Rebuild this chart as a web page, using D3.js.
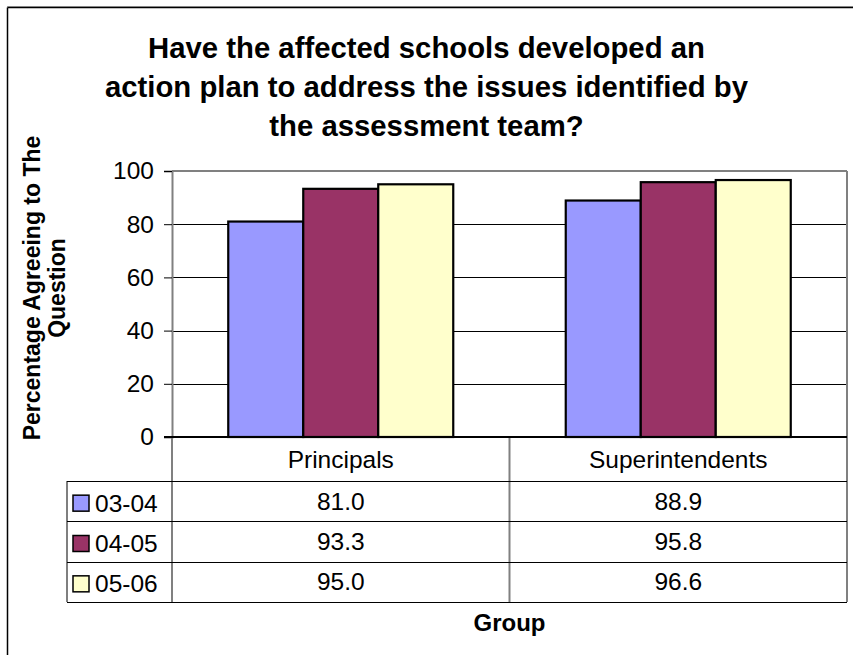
<!DOCTYPE html>
<html>
<head>
<meta charset="utf-8">
<script src="https://cdn.jsdelivr.net/npm/d3@7"></script>
<style>
  html, body { margin: 0; padding: 0; background: #fff; }
  svg { display: block; }
  text { font-family: "Liberation Sans", Arial, sans-serif; fill: #000; }
</style>
</head>
<body>
<svg id="chart" width="853" height="655"></svg>
<script>
// ---- data ----
const categories = ["Principals", "Superintendents"];
const seriesNames = ["03-04", "04-05", "05-06"];
const values0304 = [81.0, 88.9];
const values0405 = [93.3, 95.8];
const values0506 = [95.0, 96.6];
const yTicks = [0, 20, 40, 60, 80, 100];
const titleLines = ["Have the affected schools developed an",
                    "action plan to address the issues identified by",
                    "the assessment team?"];
const yTitleLines = ["Percentage Agreeing to The", "Question"];
const xTitle = "Group";
const seriesColors = ["#9999FF", "#993366", "#FFFFCC"];

const seriesValues = [values0304, values0405, values0506];

// ---- layout ----
const W = 853, H = 655;
const plot = { left: 172, right: 847, top: 171, bottom: 437 };
const tableLeft = 67;
const headerBottom = 481;
const tableBottom = 602;

const svg = d3.select("#chart");
svg.append("rect").attr("width", W).attr("height", H).attr("fill", "#fff");

// outer frame (extends beyond the picture on the right and bottom)
svg.append("line").attr("x1", 7).attr("x2", W + 10).attr("y1", 6.5).attr("y2", 6.5)
  .attr("stroke", "#b0b0b0").attr("stroke-width", 1);
svg.append("line").attr("x1", 7.5).attr("x2", W + 10).attr("y1", 7.5).attr("y2", 7.5)
  .attr("stroke", "#000").attr("stroke-width", 1.5);
svg.append("line").attr("x1", 7.5).attr("x2", 7.5).attr("y1", 7.5).attr("y2", H + 10)
  .attr("stroke", "#000").attr("stroke-width", 1.5);

// scales
const y = d3.scaleLinear().domain([0, 100]).range([plot.bottom, plot.top]);
const x0 = d3.scaleBand().domain(categories).range([plot.left, plot.right]).padding(0);
const gapWidth = 1.5; // Excel gap width 150%
const groupW = x0.bandwidth() * 3 / (3 + gapWidth);
const x1 = d3.scaleBand().domain(seriesNames)
  .range([(x0.bandwidth() - groupW) / 2, (x0.bandwidth() + groupW) / 2]).padding(0);

// gridlines
const grid = svg.append("g");
grid.selectAll("line").data(yTicks.filter(t => t > 0 && t < 100)).join("line")
  .attr("x1", plot.left).attr("x2", plot.right)
  .attr("y1", d => Math.round(y(d)) + 0.5).attr("y2", d => Math.round(y(d)) + 0.5)
  .attr("stroke", "#000").attr("stroke-width", 1);

// plot border (gray) top & right
svg.append("line").attr("x1", plot.left).attr("x2", plot.right)
  .attr("y1", plot.top).attr("y2", plot.top).attr("stroke", "#808080").attr("stroke-width", 2);
svg.append("line").attr("x1", plot.right).attr("x2", plot.right)
  .attr("y1", plot.top).attr("y2", tableBottom).attr("stroke", "#808080").attr("stroke-width", 2);

// bars
const rows = [];
categories.forEach((c, ci) => {
  seriesNames.forEach((s, si) => rows.push({ c, s, si, v: seriesValues[si][ci] }));
});
svg.append("g").selectAll("rect").data(rows).join("rect")
  .attr("x", d => x0(d.c) + x1(d.s))
  .attr("y", d => y(d.v))
  .attr("width", x1.bandwidth())
  .attr("height", d => y(0) - y(d.v))
  .attr("fill", d => seriesColors[d.si])
  .attr("stroke", "#000").attr("stroke-width", 2.2);

// y axis
const yAxis = d3.axisLeft(y).tickValues(yTicks).tickSize(8).tickPadding(10).tickFormat(d3.format("d"));
const yg = svg.append("g").attr("transform", `translate(${plot.left},0)`).call(yAxis);
yg.select(".domain").attr("stroke", "#808080").attr("stroke-width", 2);
yg.selectAll(".tick line").attr("stroke", "#000").attr("stroke-width", 1);
yg.selectAll(".tick text").attr("font-size", 24.5).attr("font-family", "'Liberation Sans', Arial, sans-serif")
  .attr("fill", "#000");

// table vertical lines
const tbl = svg.append("g");
const colEdges = [plot.left, ...categories.slice(1).map(c => x0(c))];
tbl.selectAll("line.v").data(colEdges).join("line").attr("class", "v")
  .attr("x1", d => d).attr("x2", d => d)
  .attr("y1", plot.bottom).attr("y2", tableBottom)
  .attr("stroke", "#808080").attr("stroke-width", 2);
tbl.append("line").attr("x1", tableLeft).attr("x2", tableLeft)
  .attr("y1", headerBottom).attr("y2", tableBottom)
  .attr("stroke", "#555").attr("stroke-width", 1.5);

// row scale
const rowY = d3.scaleBand().domain(seriesNames).range([headerBottom, tableBottom]).padding(0);
const hLines = [headerBottom, ...seriesNames.slice(1).map(s => rowY(s)), tableBottom];
tbl.selectAll("line.h").data(hLines).join("line").attr("class", "h")
  .attr("x1", tableLeft).attr("x2", plot.right)
  .attr("y1", d => Math.round(d) + 0.5).attr("y2", d => Math.round(d) + 0.5)
  .attr("stroke", "#000").attr("stroke-width", 1.2);

// x axis line (category axis)
svg.append("line").attr("x1", plot.left - 8).attr("x2", plot.right)
  .attr("y1", plot.bottom).attr("y2", plot.bottom)
  .attr("stroke", "#000").attr("stroke-width", 2);

// header labels
tbl.selectAll("text.hdr").data(categories).join("text").attr("class", "hdr")
  .attr("x", d => x0(d) + x0.bandwidth() / 2)
  .attr("y", (plot.bottom + headerBottom) / 2)
  .attr("dy", "0.35em").attr("text-anchor", "middle").attr("font-size", 24.5)
  .text(d => d);

// cell values
const fmt = d3.format(".1f");
tbl.selectAll("text.cell").data(rows).join("text").attr("class", "cell")
  .attr("x", d => x0(d.c) + x0.bandwidth() / 2)
  .attr("y", d => rowY(d.s) + rowY.bandwidth() / 2)
  .attr("dy", "0.35em").attr("text-anchor", "middle").attr("font-size", 24.5)
  .text(d => fmt(d.v));

// legend keys
const leg = tbl.selectAll("g.leg").data(seriesNames).join("g").attr("class", "leg")
  .attr("transform", d => `translate(${tableLeft}, ${rowY(d) + rowY.bandwidth() / 2})`);
leg.append("rect").attr("x", 6).attr("y", -6).attr("width", 16).attr("height", 16)
  .attr("fill", (d, i) => seriesColors[i]).attr("stroke", "#000").attr("stroke-width", 1.5);
leg.append("text").attr("x", 28).attr("y", 2).attr("dy", "0.35em").attr("font-size", 24.5)
  .text(d => d);

// title
svg.append("g").selectAll("text").data(titleLines).join("text")
  .attr("x", W / 2).attr("y", (d, i) => 58 + i * 39)
  .attr("text-anchor", "middle").attr("font-size", 29.3).attr("font-weight", "bold")
  .text(d => d);

// y axis title
svg.append("g").attr("transform", "translate(0,288) rotate(-90)")
  .selectAll("text").data(yTitleLines).join("text")
  .attr("x", 0).attr("y", (d, i) => 40 + i * 25)
  .attr("text-anchor", "middle").attr("font-size", 23).attr("font-weight", "bold")
  .text(d => d);

// x axis title
svg.append("text").attr("x", (plot.left + plot.right) / 2).attr("y", 631)
  .attr("text-anchor", "middle").attr("font-size", 24).attr("font-weight", "bold")
  .text(xTitle);
</script>
</body>
</html>
